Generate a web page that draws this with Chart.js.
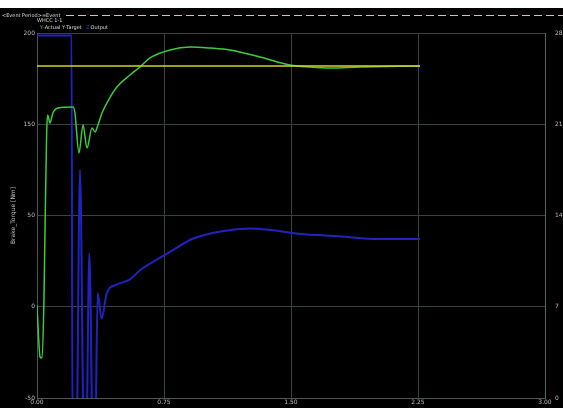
<!DOCTYPE html>
<html><head><meta charset="utf-8">
<script src="https://cdn.jsdelivr.net/npm/chart.js@4/dist/chart.umd.min.js"></script>
<style>html,body{margin:0;padding:0;background:#fff}#w{width:563px;height:408px}</style>
</head><body><div id="w"><canvas id="c"></canvas></div>
<script>
// time (s) and values
const xTickLabels = ["0.00","0.75","1.50","2.25","3.00"];
const leftTickLabels = ["-50","0","50","150","200"];
const rightTickLabels = ["0","7","14","21","28"];

const actualT = [0.000,0.008,0.018,0.030,0.041,0.047,0.057,0.063,0.077,0.094,0.124,0.213,0.224,0.248,0.272,0.295,0.325,0.343,0.360,0.384,0.419,0.472,0.549,0.608,0.667,0.785,0.904,1.022,1.140,1.317,1.494,1.612,1.730,1.908,2.262];
const actualV = [13.7,-5.5,-21.9,-22.6,17.1,63.0,131.5,143.8,138.4,145.2,148.6,149.3,145.2,117.8,137.0,121.2,134.9,132.2,137.0,145.2,153.4,163.0,171.2,176.7,182.9,188.4,190.4,189.7,188.4,183.6,178.1,176.7,176.0,176.7,177.4];

const targetT = [0.000,2.262];
const targetV = [177.4,177.4];

const outputT = [0.000,0.204,0.210,0.232,0.254,0.278,0.290,0.309,0.331,0.343,0.358,0.382,0.412,0.471,0.549,0.608,0.667,0.797,0.915,1.092,1.258,1.370,1.547,1.783,2.020,2.262];
const outputV = [27.8,27.8,-4,-4,17.5,-4,-4,11.1,-4,-4,8.05,6.1,8.05,8.7,9.1,9.8,10.3,11.3,12.2,12.8,13.0,12.9,12.6,12.4,12.2,12.2];

const pts = (t,v) => t.map((x,i)=>({x:x,y:v[i]}));

const header = {
  id:'header',
  beforeDraw(ch){
    const c=ch.ctx; c.save();
    c.fillStyle='#000'; c.fillRect(0,0,563,408);
    c.fillStyle='#fff'; c.fillRect(0,0,563,8);
    c.strokeStyle='#e0c09a'; c.lineWidth=1.2; c.setLineDash([8,4]);
    c.beginPath(); c.moveTo(66,15.5); c.lineTo(563,15.5); c.stroke();
    c.setLineDash([]);
    c.font='5px "DejaVu Sans"'; c.fillStyle='#ddd'; c.textBaseline='middle';
    c.fillText('<Event Period>=Event',2,15.5);
    c.fillText('WHCC 1-1',37,21);
    c.fillStyle='#4c4'; c.fillText('Y',40,27.5);
    c.fillStyle='#ddd'; c.fillText('-Actual',43,27.5);
    c.fillStyle='#dd2'; c.fillText('Y',62,27.5);
    c.fillStyle='#ddd'; c.fillText('-Target',65,27.5);
    c.fillStyle='#33d'; c.fillText('Z',86,27.5);
    c.fillStyle='#ddd'; c.fillText(' Output',89,27.5);
    c.restore();
  }
};

new Chart(document.getElementById('c'),{
  type:'line',
  data:{datasets:[
    {label:'Y-Target',data:pts(targetT,targetV),yAxisID:'y',borderColor:'#d4d42a',borderWidth:1.5,pointRadius:0,tension:0},
    {label:'Y-Actual',data:pts(actualT,actualV),yAxisID:'y',borderColor:'#3ccc3c',borderWidth:1.5,pointRadius:0,cubicInterpolationMode:'monotone'},
    {label:'Z Output',data:pts(outputT,outputV),yAxisID:'y2',borderColor:'#2222c0',borderWidth:2,pointRadius:0,cubicInterpolationMode:'monotone'}
  ]},
  options:{
    responsive:true,maintainAspectRatio:false,animation:false,
    layout:{padding:{top:33,left:0,right:0,bottom:0}},
    plugins:{legend:{display:false},tooltip:{enabled:false}},
    scales:{
      x:{type:'linear',min:0,max:3,
        afterBuildTicks:s=>{s.ticks=[0,0.75,1.5,2.25,3].map(v=>({value:v}));},
        afterFit:s=>{s.height=10;},
        grid:{color:'#34443a',drawTicks:false},border:{color:'#4a5a50'},
        ticks:{padding:1,color:'#bbb',font:{size:6,family:'DejaVu Sans'},maxRotation:0,callback:(v,i)=>xTickLabels[i]}},
      y:{type:'linear',position:'left',min:-50,max:200,
        afterBuildTicks:s=>{s.ticks=[-50,12.5,75,137.5,200].map(v=>({value:v}));},
        afterFit:s=>{s.width=37;},
        title:{display:true,text:'Brake_Torque [Nm]',color:'#bbb',font:{size:6,family:'DejaVu Sans'},padding:{top:10,bottom:0}},
        grid:{color:'#34443a',drawTicks:false},border:{color:'#4a5a50'},
        ticks:{padding:2,color:'#bbb',font:{size:6,family:'DejaVu Sans'},callback:(v,i)=>leftTickLabels[i]}},
      y2:{type:'linear',position:'right',min:0,max:28,
        afterBuildTicks:s=>{s.ticks=[0,7,14,21,28].map(v=>({value:v}));},
        afterFit:s=>{s.width=18;},
        grid:{display:false},border:{color:'#4a6a5a'},
        ticks:{padding:2,color:'#bbb',font:{size:6,family:'DejaVu Sans'},callback:(v,i)=>rightTickLabels[i]}}
    }
  },
  plugins:[header]
});
</script></body></html>
